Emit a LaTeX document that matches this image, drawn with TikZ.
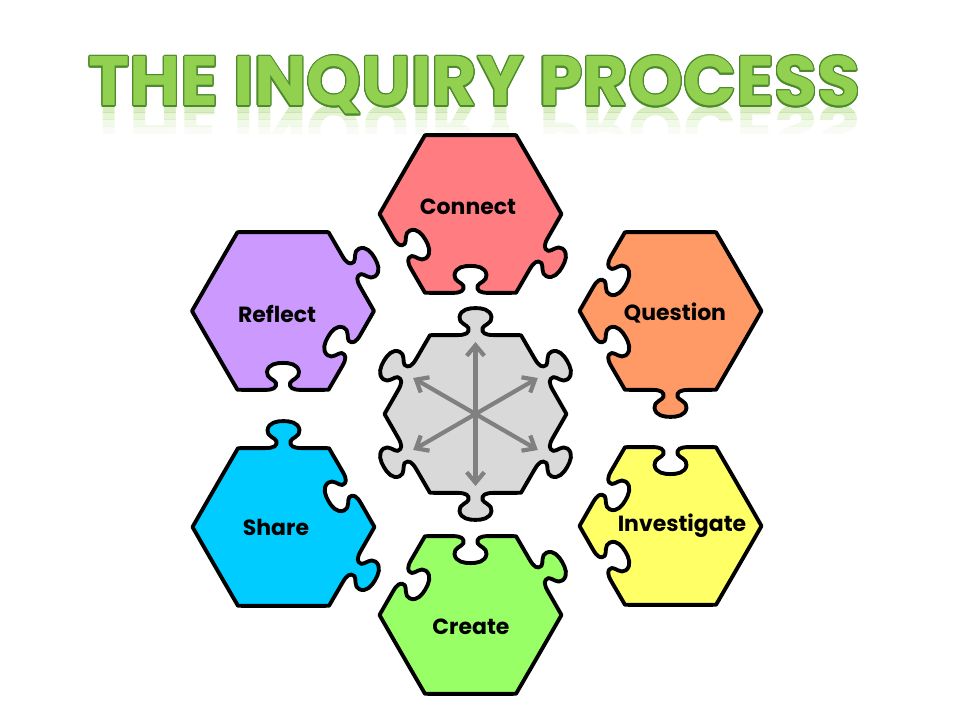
\documentclass[tikz,border=0pt]{standalone}
\usepackage{fontspec}
\newfontfamily\titlefont{Poppins}
\usetikzlibrary{arrows.meta}
\definecolor{connectred}{HTML}{FF7C80}
\definecolor{reflectpurple}{HTML}{CC99FF}
\definecolor{questionorange}{HTML}{FF9966}
\definecolor{shareblue}{HTML}{00CCFF}
\definecolor{investigateyellow}{HTML}{FFFF66}
\definecolor{creategreen}{HTML}{99FF66}
\definecolor{hubgray}{HTML}{D9D9D9}
\definecolor{titlefill}{HTML}{92D050}
\definecolor{titleedge}{HTML}{4C8A2B}
\newcommand{\titletext}{\resizebox{15.44cm}{!}{\titlefont\bfseries THE INQUIRY PROCESS}}
\newcommand{\puzzlepiece}[4]{%
  \begin{scope}[shift={#2}]
    \coordinate (#1) at (0,0);
    \filldraw[piece=#3] (0:91) \foreach \nrm/\kind in {#4} {
      {[shift={(\nrm:78.9)},rotate=\nrm-90,yscale=\kind] -- (-18,0)
        .. controls (-10,0) and (-6,2) .. (-7,7) .. controls (-8,10) and (-17,12) .. (-16,18)
        .. controls (-15,26) and (-6,27) .. (0,27) .. controls (6,27) and (15,26) .. (16,18)
        .. controls (17,12) and (8,10) .. (7,7) .. controls (6,2) and (10,0) .. (18,0)}
      -- (\nrm-30:91)} -- cycle;
  \end{scope}}
\begin{document}
\begin{tikzpicture}[x=0.02cm,y=0.02cm,
  piece/.style={fill=#1,draw=black,line width=2.2pt,line join=round},
  lbl/.style={font=\titlefont\bfseries\fontsize{12.5}{15}\selectfont},
  spoke/.style={draw=gray,line width=2.4pt,-{Straight Barb[length=6pt,width=10pt]}},
  ttl/.style={anchor=base west,inner sep=0pt}]
\useasboundingbox[fill=white] (0,0) rectangle (960,720);
\foreach \k/\op in {0/0.35,1/0.22,2/0.12,3/0.05} {
  \begin{scope}
    \clip (0,614-7*\k) rectangle (960,607-7*\k);
    \node[ttl,yscale=-1,text=titlefill,opacity=\op] (mirror\k) at (88,614) {\titletext};
  \end{scope}
}
\foreach \a [count=\i] in {0,22.5,...,337.5}
  \node[ttl,text=titleedge] (rim\i) at ([shift={(\a:1.1)}]88,614) {\titletext};
\node[ttl,text=titlefill] (title) at (88,614) {\titletext};
\puzzlepiece{connect}{(470.5,506)}{connectred}{330/1,270/-1,210/-1,150/0,90/0,30/0}
\puzzlepiece{reflect}{(283,409)}{reflectpurple}{330/-1,270/-1,210/0,150/0,90/0,30/1}
\puzzlepiece{question}{(670.5,409)}{questionorange}{330/0,270/1,210/-1,150/-1,90/0,30/0}
\puzzlepiece{share}{(283.5,193)}{shareblue}{330/1,270/0,210/0,150/0,90/1,30/-1}
\puzzlepiece{investigate}{(670.5,194)}{investigateyellow}{330/0,270/0,210/-1,150/-1,90/-1,30/0}
\puzzlepiece{create}{(470.5,105)}{creategreen}{330/0,270/0,210/0,150/-1,90/-1,30/1}
\puzzlepiece{hub}{(475.5,306)}{hubgray}{330/1,270/1,210/1,150/1,90/1,30/1}
\foreach \a in {30,90,150,210,270,330} {
  \coordinate (tip\a) at ([shift={(\a:72)}]hub);
  \draw[spoke] (hub) -- (tip\a);
}
\node[lbl] (connect-l) at (468,513) {Connect};
\node[lbl] (reflect-l) at (277,406) {Reflect};
\node[lbl] (question-l) at (675,407) {Question};
\node[lbl] (share-l) at (276,193) {Share};
\node[lbl] (investigate-l) at (682,194) {Investigate};
\node[lbl] (create-l) at (471,93) {Create};
\end{tikzpicture}
\end{document}
